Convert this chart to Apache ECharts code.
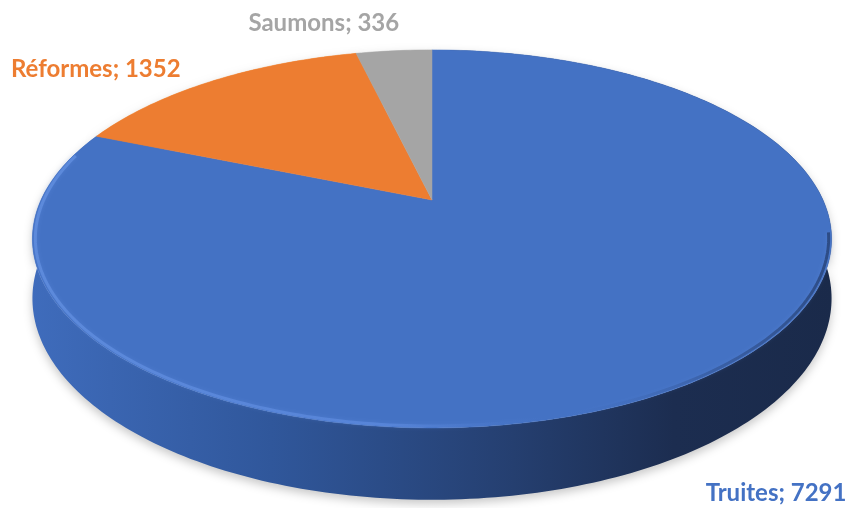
<!DOCTYPE html>
<html>
<head>
<meta charset="utf-8">
<script src="https://cdn.jsdelivr.net/npm/echarts@6/dist/echarts.min.js"></script>
<style>
html,body{margin:0;padding:0;background:#fff;}
#chart{width:852px;height:508px;}
</style>
</head>
<body>
<div id="chart"></div>
<script>
const categories = ['Truites', 'Réformes', 'Saumons'];
const values = [7291, 1352, 336];
const sliceColors = ['#4472C4', '#ED7D31', '#A5A5A5'];

const chart = echarts.init(document.getElementById('chart'));
const total = values.reduce((a, b) => a + b, 0);
const starts = [];
let acc = 0;
values.forEach(v => { starts.push(acc); acc += v; });

// projection parameters (perspective-tilted disk)
const CX = 432, CY = 200, A = 391, B = 181, K = 0.206, H = 57;
function proj(theta, t, drop) {
  const u = t * Math.sin(theta), v = -t * Math.cos(theta);
  const w = 1 - K * v;
  return [CX + A * u / w, CY + (B * v + (drop || 0)) / w];
}
const labelOffsets = [[-28, 14], [-9, 0], [9, -13]];
const labelAligns = ['left', 'right', 'right'];

function renderItem(params, api) {
  const i = params.dataIndex;
  const a0 = starts[i] / total * Math.PI * 2;
  const a1 = (starts[i] + api.value(1)) / total * Math.PI * 2;
  const n = Math.max(4, Math.ceil((a1 - a0) / (Math.PI / 180)));
  const top = [], bot = [];
  for (let s = 0; s <= n; s++) {
    const th = a0 + (a1 - a0) * s / n;
    top.push(proj(th, 1, 0));
    bot.push(proj(th, 1, H));
  }
  const children = [];
  const wallFill = new echarts.graphic.LinearGradient(30, 0, 835, 0, [
    { offset: 0, color: '#3f6cbc' },
    { offset: 0.3, color: '#30579b' },
    { offset: 0.6, color: '#253f70' },
    { offset: 0.8, color: '#1c2d50' },
    { offset: 1, color: '#1a2a4a' }
  ], true);
  const wallColor = i === 0 ? wallFill : echarts.color.lift(sliceColors[i], -0.3);
  children.push({
    type: 'polygon', z2: 1,
    shape: { points: top.concat(bot.slice().reverse()) },
    style: {
      fill: wallColor,
      shadowColor: 'rgba(0,0,0,0.22)', shadowBlur: 10, shadowOffsetY: 4
    }
  });
  children.push({
    type: 'polygon', z2: 10,
    shape: { points: [proj(0, 0, 0)].concat(top) },
    style: { fill: sliceColors[i], stroke: sliceColors[i], lineWidth: 0.5 }
  });
  if (i === 0) {
    // bevel highlight along the front-left rim
    const rim = [];
    for (let d = 100; d <= 285; d += 1) {
      rim.push(proj(d * Math.PI / 180, 0.993, 0));
    }
    children.push({
      type: 'polyline', z2: 11,
      shape: { points: rim },
      style: {
        fill: null, lineWidth: 3, opacity: 0.75,
        shadowBlur: 4, shadowColor: 'rgba(100,145,230,0.6)',
        stroke: new echarts.graphic.LinearGradient(30, 0, 835, 0, [
          { offset: 0, color: 'rgba(110,155,235,0.7)' },
          { offset: 0.45, color: 'rgba(105,150,235,0.6)' },
          { offset: 0.65, color: 'rgba(68,114,196,0)' },
          { offset: 0.85, color: 'rgba(35,60,110,0.5)' },
          { offset: 1, color: 'rgba(25,45,85,0.8)' }
        ], true)
      }
    });
  }
  const mid = (a0 + a1) / 2;
  const front = Math.cos(mid) < 0;
  const lp = proj(mid, 1.12, front ? H : 0);
  children.push({
    type: 'text', z2: 20,
    x: lp[0] + labelOffsets[i][0], y: lp[1] + labelOffsets[i][1],
    style: {
      text: categories[i] + '; ' + api.value(1),
      fill: sliceColors[i],
      font: 'bold 24px Lato, "Open Sans", sans-serif',
      align: labelAligns[i],
      verticalAlign: 'middle'
    }
  });
  return { type: 'group', children };
}

chart.setOption({
  backgroundColor: '#ffffff',
  animation: false,
  series: [{
    type: 'custom',
    coordinateSystem: 'none',
    renderItem: renderItem,
    data: values.map((v, i) => [i, v])
  }]
});
</script>
</body>
</html>
